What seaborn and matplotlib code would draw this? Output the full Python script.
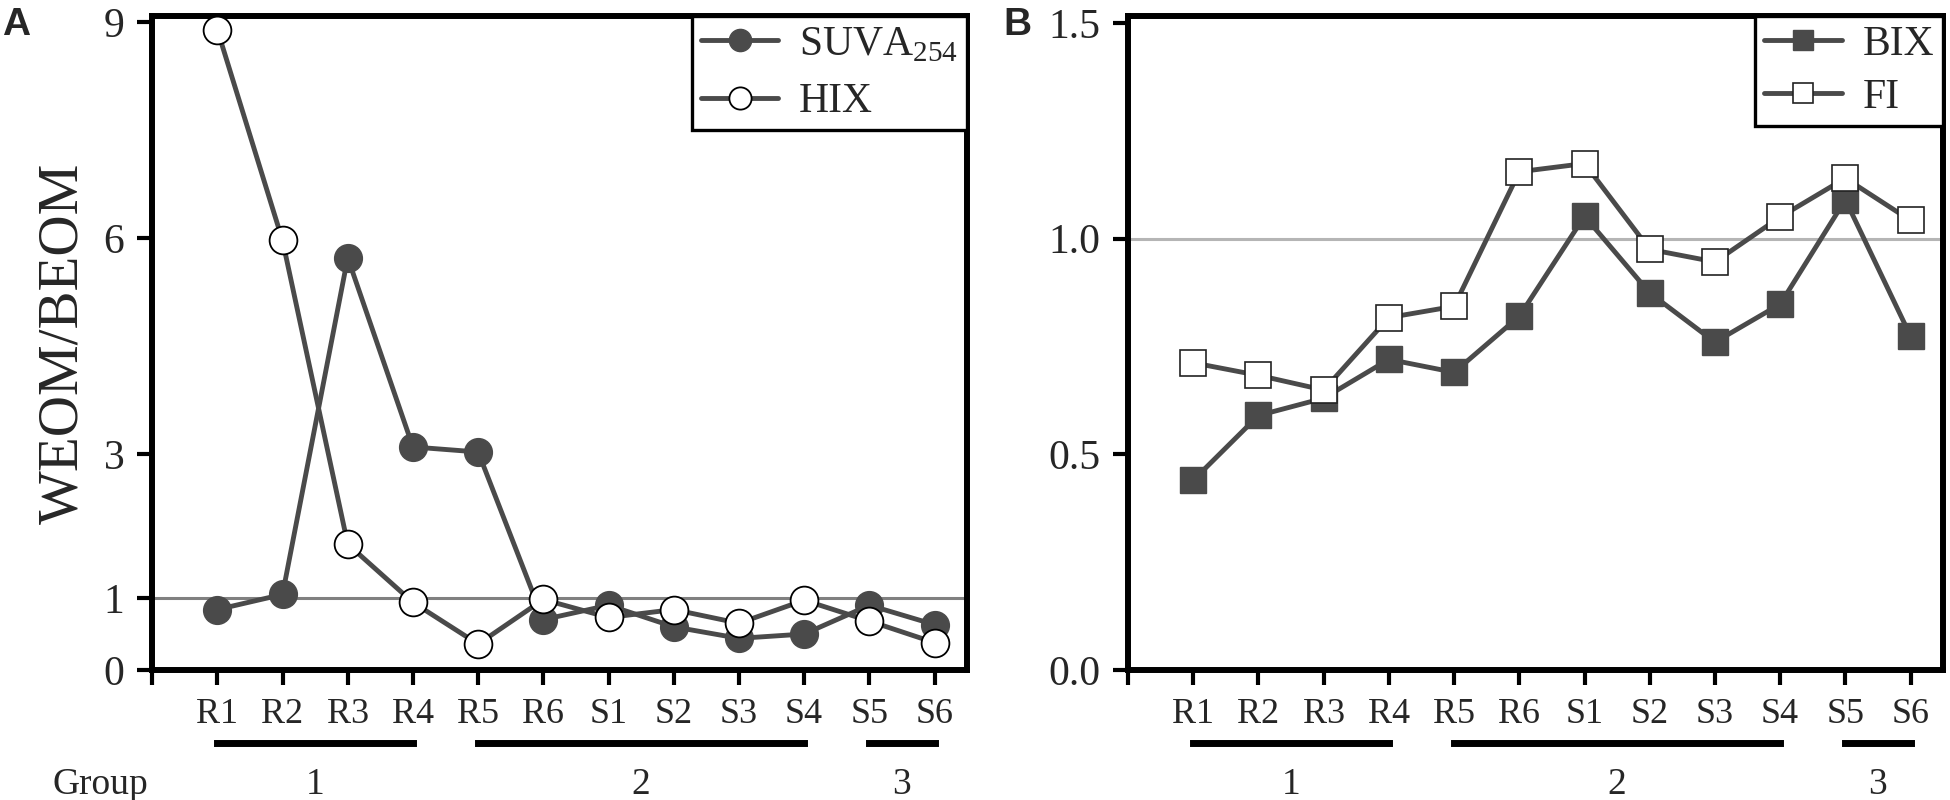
import matplotlib
matplotlib.use("Agg")
import matplotlib.pyplot as plt
import seaborn as sns
import pandas as pd

# samples and group split
samples = ["R1", "R2", "R3", "R4", "R5", "R6", "S1", "S2", "S3", "S4", "S5", "S6"]
groups = ["1", "2", "3"]
group_first = ["R1", "R5", "S5"]
group_last = ["R4", "S4", "S6"]

# panel A: WEOM/BEOM ratios
suva254 = [0.84, 1.05, 5.73, 3.10, 3.03, 0.70, 0.90, 0.60, 0.44, 0.50, 0.90, 0.63]
hix = [8.90, 5.97, 1.75, 0.94, 0.36, 0.98, 0.73, 0.84, 0.65, 0.97, 0.68, 0.38]

# panel B
bix = [0.44, 0.59, 0.63, 0.72, 0.69, 0.82, 1.052, 0.874, 0.76, 0.848, 1.09, 0.774]
fi = [0.712, 0.683, 0.649, 0.817, 0.843, 1.155, 1.174, 0.975, 0.946, 1.05, 1.14, 1.042]

sns.set_theme(style="ticks")
plt.rcParams["font.family"] = ["Liberation Serif", "DejaVu Serif"]
plt.rcParams["mathtext.fontset"] = "custom"
plt.rcParams["mathtext.rm"] = "Liberation Serif"

pos = list(range(1, len(samples) + 1))
dfA = pd.DataFrame({"pos": pos, "SUVA": suva254, "HIX": hix})
dfB = pd.DataFrame({"pos": pos, "BIX": bix, "FI": fi})

grey = "#4a4a4a"

fig = plt.figure(figsize=(19.5, 8), dpi=100)
axA = fig.add_axes([0.078, 0.1625, 0.418, 0.8175])
axB = fig.add_axes([0.5785, 0.1625, 0.418, 0.8175])


def style_axis(ax, ymax, yticks, ylabels):
    ax.set_xlim(0, 12.5)
    ax.set_ylim(0, ymax)
    ax.set_xticks(range(0, 13))
    ax.set_xticklabels([""] + samples, fontsize=26)
    ax.set_yticks(yticks)
    ax.set_yticklabels(ylabels, fontsize=30)
    for s in ax.spines.values():
        s.set_visible(True)
        s.set_color("black")
        s.set_linewidth(4.3)
    ax.tick_params(axis="x", direction="out", length=11, width=3, pad=9, color="black")
    ax.tick_params(axis="y", direction="out", length=11, width=3, pad=9, color="black")
    ax.set_xlabel("")
    ax.grid(False)
    # group bars and numbers under the tick labels
    trans = ax.get_xaxis_transform()
    for g, a, b in zip(groups, group_first, group_last):
        x0 = samples.index(a) + 1
        x1 = samples.index(b) + 1
        ax.plot([x0, x1], [-0.1123, -0.1123], color="black", lw=5,
                solid_capstyle="projecting", transform=trans, clip_on=False)
        ax.text((x0 + x1) / 2, -0.19, g, transform=trans, ha="center",
                va="baseline", fontsize=27)


# ---- panel A
axA.axhline(1, color="#808080", lw=2.2, zorder=1)
sns.lineplot(data=dfA, x="pos", y="SUVA", ax=axA, color=grey, lw=3.5,
             marker="o", markersize=20, markerfacecolor=grey,
             markeredgecolor=grey, markeredgewidth=1,
             label=r"SUVA$_{\mathrm{254}}$", zorder=3)
sns.lineplot(data=dfA, x="pos", y="HIX", ax=axA, color=grey, lw=3.5,
             marker="o", markersize=20, markerfacecolor="white",
             markeredgecolor="black", markeredgewidth=1.3,
             label="HIX", zorder=4)
style_axis(axA, 9.09, [0, 1, 3, 6, 9], ["0", "1", "3", "6", "9"])
axA.set_ylabel("WEOM/BEOM", fontsize=41, labelpad=10)

# ---- panel B
axB.axhline(1.0, color="#b5b5b5", lw=2.2, zorder=1)
sns.lineplot(data=dfB, x="pos", y="BIX", ax=axB, color=grey, lw=3.5,
             marker="s", markersize=18.5, markerfacecolor=grey,
             markeredgecolor=grey, markeredgewidth=1,
             label="BIX", zorder=3)
sns.lineplot(data=dfB, x="pos", y="FI", ax=axB, color=grey, lw=3.5,
             marker="s", markersize=18.5, markerfacecolor="white",
             markeredgecolor="#222222", markeredgewidth=1.2,
             label="FI", zorder=4)
style_axis(axB, 1.516, [0, 0.5, 1.0, 1.5], ["0.0", "0.5", "1.0", "1.5"])
axB.set_ylabel("")

for ax, spacing in ((axA, 0.45), (axB, 0.35)):
    leg = ax.legend(loc="upper right", bbox_to_anchor=(1, 1), borderaxespad=0,
                    fontsize=30, frameon=True, fancybox=False, framealpha=1,
                    handlelength=1.85, handletextpad=0.5, labelspacing=spacing,
                    borderpad=0.22, markerscale=0.8)
    leg.get_frame().set_edgecolor("black")
    leg.get_frame().set_linewidth(2.4)

fig.text(53 / 1950, 0.0075, "Group", fontsize=27, ha="left", va="baseline")
fig.text(2 / 1950, 1 - 7 / 800, "A", fontsize=28, fontweight="bold",
         family="Liberation Sans", ha="left", va="top")
fig.text(1003 / 1950, 1 - 7 / 800, "B", fontsize=28, fontweight="bold",
         family="Liberation Sans", ha="left", va="top")

fig.savefig("out.png", dpi=100)
